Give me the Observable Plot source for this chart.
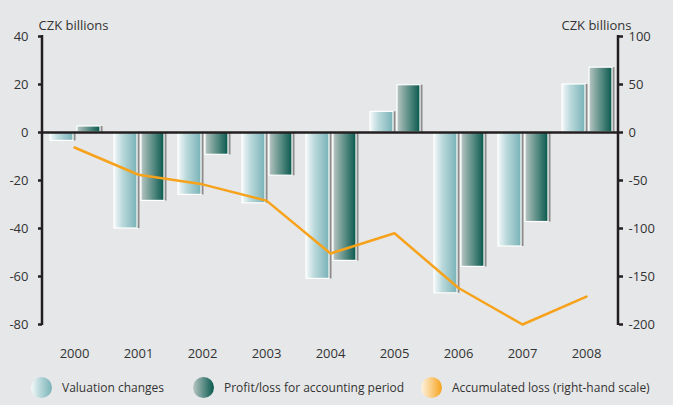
<!DOCTYPE html>
<html><head><meta charset="utf-8">
<script src="https://cdn.jsdelivr.net/npm/d3@7"></script>
<script src="https://cdn.jsdelivr.net/npm/@observablehq/plot@0.6"></script>
<style>
html,body{margin:0;padding:0;background:#e6e7e8;}
#chart{width:673px;height:405px;overflow:hidden;font-family:"Open Sans",sans-serif;background:#e6e7e8;}
#chart svg{display:block;}
.legend{position:relative;height:40px;font-size:12px;color:#333;}
.item{position:absolute;top:11px;display:flex;align-items:center;height:22px;}
.sw{width:21px;height:21px;border-radius:50%;margin-right:10px;}
</style></head><body><div id="chart"></div>
<script>
const years = ["2000","2001","2002","2003","2004","2005","2006","2007","2008"];
const valuation = [-3.5, -40, -26, -29.5, -61, 8.6, -67, -47.5, 20];
const profit = [2.5, -28.5, -9.3, -18, -53.5, 19.7, -56, -37.3, 27];
const accumulated = [-15.6, -44, -54, -71, -126, -105, -162, -200, -171];
const leftTicks = [-80, -60, -40, -20, 0, 20, 40];
const rightTicks = [-200, -150, -100, -50, 0, 50, 100];
const seriesNames = ["Valuation changes", "Profit/loss for accounting period", "Accumulated loss (right-hand scale)"];
const unitLabel = "CZK billions";
const ratio = 2.5; // right-hand scale / left-hand scale

const data = years.map((y, i) => ({year: y, val: valuation[i], prof: profit[i], acc: accumulated[i]}));
const fmt = d => String(Math.round(d)).replace("\u2212", "-");

const W = 673, H = 365;
const plot = Plot.plot({
  width: W, height: H,
  marginLeft: 42, marginRight: 55, marginTop: 36, marginBottom: 41,
  style: {background: "transparent", fontFamily: "'Open Sans', sans-serif", fontSize: "12.5px", color: "#333"},
  x: {type: "band", domain: years, padding: 0, axis: null, label: null},
  y: {domain: [-80, 40], axis: null, label: null},
  marks: [
    // shadows
    Plot.barY(data, {x: "year", y: "val", fill: "#8c8c8c", insetLeft: 8, insetRight: 33, dx: 2.5}),
    Plot.barY(data, {x: "year", y: "prof", fill: "#8c8c8c", insetLeft: 35, insetRight: 6, dx: 2.5}),
    // bars
    Plot.barY(data, {x: "year", y: "val", fill: "url(#gVal)", stroke: "#ffffff", strokeWidth: 1.2, insetLeft: 8, insetRight: 33}),
    Plot.barY(data, {x: "year", y: "prof", fill: "url(#gProf)", stroke: "#ffffff", strokeWidth: 1.2, insetLeft: 35, insetRight: 6}),
    Plot.ruleY([0], {stroke: "#231f20", strokeWidth: 2.5}),
    Plot.lineY(data, {x: "year", y: d => d.acc / ratio, stroke: "#f7a21b", strokeWidth: 2.5}),
    Plot.axisY({anchor: "left", ticks: leftTicks, tickFormat: fmt, tickSize: 4, tickPadding: 10, stroke: "#231f20", strokeWidth: 2.5, fill: "#333", fontSize: 13, label: null}),
    Plot.axisY({anchor: "right", ticks: rightTicks.map(v => v / ratio), tickFormat: d => fmt(d * ratio), tickSize: 4, tickPadding: 6, stroke: "#231f20", strokeWidth: 2.5, fill: "#333", fontSize: 13, label: null}),
    Plot.axisX({anchor: "bottom", tickSize: 0, tickPadding: 24, fill: "#333", fontSize: 13, label: null}),
    Plot.text([unitLabel], {frameAnchor: "top-left", textAnchor: "start", dx: -4, dy: -16, fill: "#333", fontSize: 13}),
    Plot.text([unitLabel], {frameAnchor: "top-right", textAnchor: "end", dx: 13, dy: -16, fill: "#333", fontSize: 13})
  ]
});

const svg = d3.select(plot);
const defs = svg.insert("defs", ":first-child");
function grad(id, stops) {
  const g = defs.append("linearGradient").attr("id", id).attr("x1", "0").attr("x2", "1").attr("y1", "0").attr("y2", "0");
  stops.forEach(([o, c]) => g.append("stop").attr("offset", o).attr("stop-color", c));
}
grad("gVal", [[0, "#f4f9f9"], [0.35, "#bcdadc"], [1, "#78b2b7"]]);
grad("gProf", [[0, "#b9c6c3"], [0.4, "#6f9a93"], [1, "#08584d"]]);

// vertical axis lines, placed through the plot's own scales
const ys = plot.scale("y"), xs = plot.scale("x");
const yTop = ys.apply(leftTicks[leftTicks.length - 1]), yBot = ys.apply(leftTicks[0]);
const xL = xs.range[0], xR = xs.range[1];
[xL, xR].forEach(x => {
  svg.append("line").attr("x1", x).attr("x2", x).attr("y1", yTop - 1).attr("y2", yBot + 1)
    .attr("stroke", "#231f20").attr("stroke-width", 2.5);
});

const chart = document.getElementById("chart");
chart.appendChild(plot);

const legend = document.createElement("div");
legend.className = "legend";
const swatches = [
  "linear-gradient(90deg,#f4f9f9,#bcdadc 40%,#78b2b7)",
  "linear-gradient(90deg,#b9c6c3,#6f9a93 40%,#08584d)",
  "linear-gradient(90deg,#fdf3e2,#fbd08a 45%,#f5a21c)"
];
const lefts = [31, 193, 421];
seriesNames.forEach((n, i) => {
  const it = document.createElement("div");
  it.className = "item";
  it.style.left = lefts[i] + "px";
  const sw = document.createElement("div");
  sw.className = "sw";
  sw.style.background = swatches[i];
  const t = document.createElement("span");
  t.textContent = n;
  it.appendChild(sw); it.appendChild(t);
  legend.appendChild(it);
});
chart.appendChild(legend);
</script>
</body></html>
